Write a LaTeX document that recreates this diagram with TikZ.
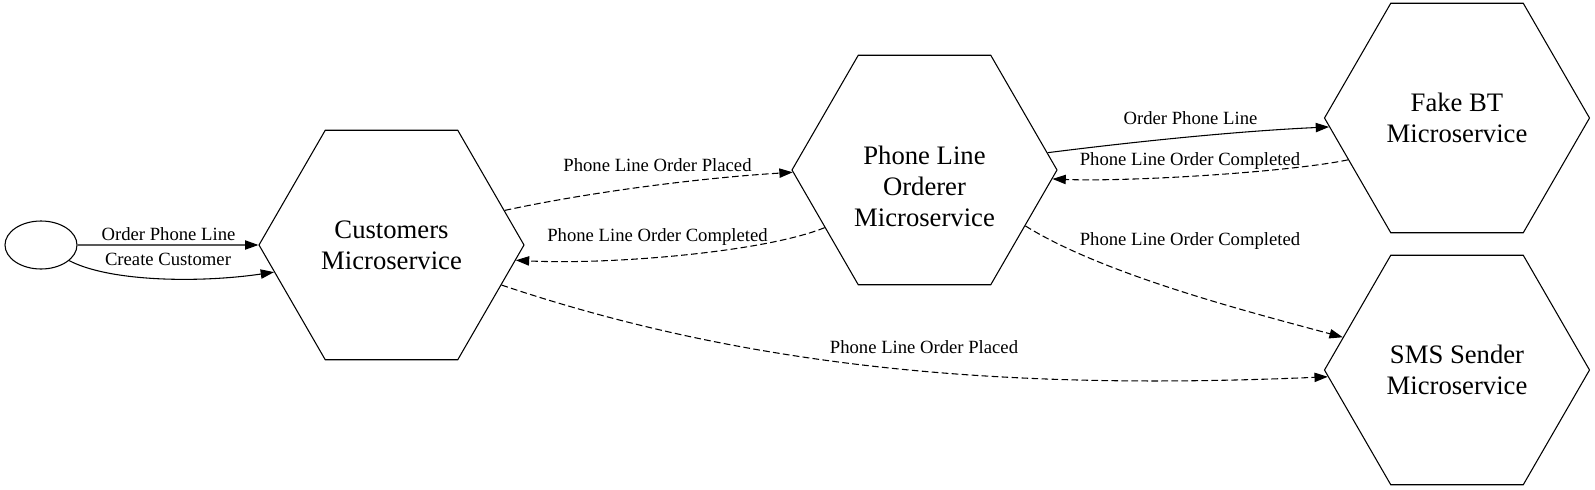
\documentclass[tikz,border=0pt]{standalone}
\usepackage{fontspec}
\setmainfont{Liberation Serif}
\usetikzlibrary{shapes.geometric,arrows.meta}
\begin{document}
\begin{tikzpicture}[x=0.75pt,y=-0.75pt,
  hexa/.style={draw, line width=0.8pt, regular polygon, regular polygon sides=6,
    minimum size=198.75pt, inner sep=0pt, font=\fontsize{20}{23.25}\selectfont, align=center},
  hexlabel/.style={font=\fontsize{20}{23.25}\selectfont, align=center, inner sep=0pt},
  startnode/.style={draw, line width=0.8pt, ellipse, minimum width=54pt, minimum height=36pt, inner sep=0pt},
  elabel/.style={font=\fontsize{14}{16}\selectfont, anchor=base, inner sep=0pt},
  flow/.style={line width=0.8pt, -{Triangle[length=10pt,width=7pt]}},
  evt/.style={flow, dash pattern=on 5pt off 2.5pt},
]
\useasboundingbox (0,0) rectangle (1595,489);

% nodes
\node[startnode] (start) at (41,245) {};
\node[hexa] (cust) at (391.5,245) {Customers\\Microservice};
\node[hexa, label={[hexlabel, yshift=-12pt]center:Phone Line\\Orderer\\Microservice}] (plo) at (924.5,170) {};
\node[hexa] (fbt) at (1457,118) {Fake BT\\Microservice};
\node[hexa] (sms) at (1457,370) {SMS Sender\\Microservice};

% connectors
\draw[flow] (start.east) -- (cust.180);
\draw[flow] (start.-29) .. controls (110,282) and (200,283) .. (cust.193.7);
\draw[evt] (cust.17.7) .. controls (590,192) and (700,178) .. (plo.181);
\draw[evt] (plo.210.7) .. controls (765,252) and (610,265) .. (cust.-7.8);
\draw[evt] (cust.-20.1) .. controls (760,372) and (1020,390) .. (sms.183.6);
\draw[flow] (plo.8.7) .. controls (1140,141) and (1240,131) .. (fbt.184);
\draw[evt] (fbt.201.3) .. controls (1290,172) and (1130,182) .. (plo.-4.6);
\draw[evt] (plo.-29.8) .. controls (1104,275) and (1253,313) .. (sms.164.8);

% labels
\node[elabel] (l1) at (168.5,240) {Order Phone Line};
\node[elabel] (l2) at (168,265.5) {Create Customer};
\node[elabel] (l3) at (657.5,171) {Phone Line Order Placed};
\node[elabel] (l4) at (657.5,241) {Phone Line Order Completed};
\node[elabel] (l5) at (924,353) {Phone Line Order Placed};
\node[elabel] (l6) at (1190.5,124) {Order Phone Line};
\node[elabel] (l7) at (1190,165) {Phone Line Order Completed};
\node[elabel] (l8) at (1190,245.5) {Phone Line Order Completed};
\end{tikzpicture}
\end{document}
